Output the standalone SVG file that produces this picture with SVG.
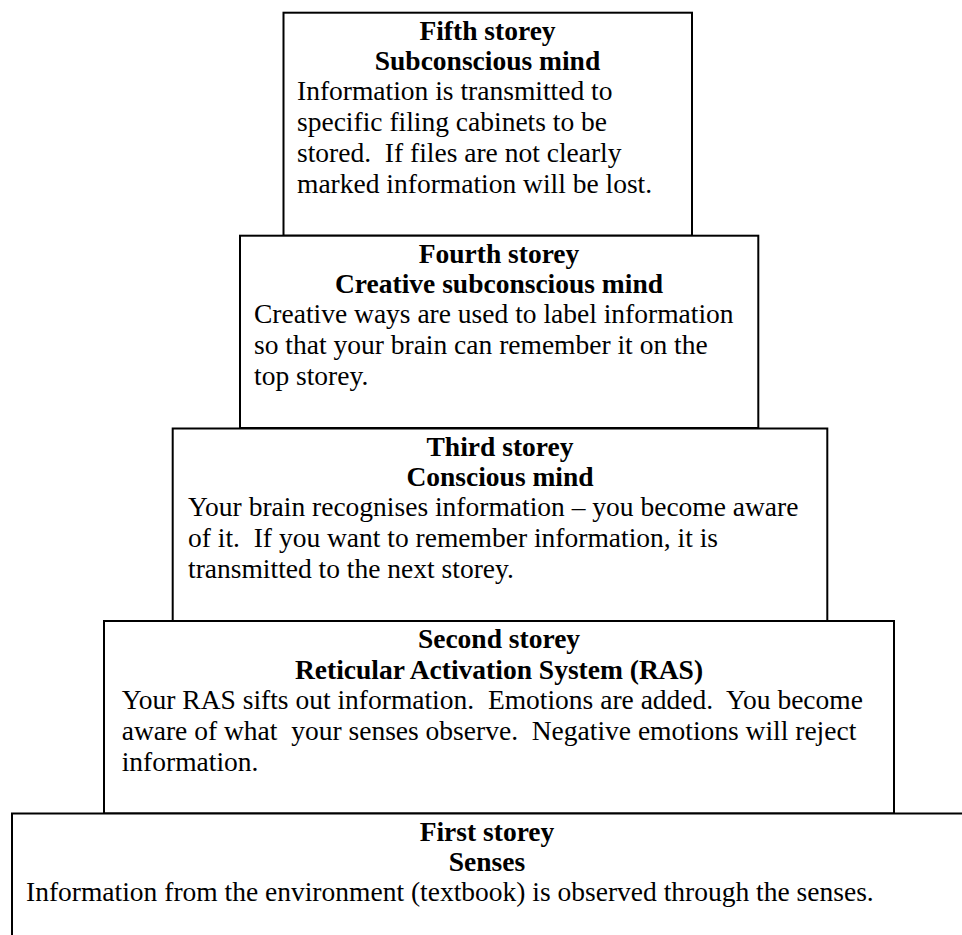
<svg xmlns="http://www.w3.org/2000/svg" width="962" height="935" viewBox="0 0 962 935">
<style>
.box{fill:#fff;stroke:#000;stroke-width:2}
.h{font-family:"Liberation Serif","Times New Roman",serif;font-size:27.5px;font-weight:bold;text-anchor:middle;fill:#000}
.b{font-family:"Liberation Serif","Times New Roman",serif;font-size:27.5px;fill:#000;white-space:pre}
</style>
<rect width="962" height="935" fill="#fff"/>
<g id="connectors"></g>
<g id="fifth">
<rect class="box" x="283.5" y="12.7" width="408.5" height="223"/>
<text class="h" x="487.5" y="39.7">Fifth storey</text>
<text class="h" x="487.5" y="70.2">Subconscious mind</text>
<text class="b" x="297" y="100.2" xml:space="preserve">Information is transmitted to</text>
<text class="b" x="297" y="131.2" xml:space="preserve">specific filing cabinets to be</text>
<text class="b" x="297" y="162.2" xml:space="preserve">stored.  If files are not clearly</text>
<text class="b" x="297" y="193.2" xml:space="preserve">marked information will be lost.</text>
</g>
<g id="fourth">
<rect class="box" x="240" y="235.7" width="518.3" height="192.3"/>
<text class="h" x="499" y="262.7">Fourth storey</text>
<text class="h" x="499" y="293.2">Creative subconscious mind</text>
<text class="b" x="254" y="323.2" xml:space="preserve">Creative ways are used to label information</text>
<text class="b" x="254" y="354.2" xml:space="preserve">so that your brain can remember it on the</text>
<text class="b" x="254" y="385.2" xml:space="preserve">top storey.</text>
</g>
<g id="third">
<rect class="box" x="172.7" y="428.5" width="654.6" height="192.5"/>
<text class="h" x="500" y="455.5">Third storey</text>
<text class="h" x="500" y="486">Conscious mind</text>
<text class="b" x="188" y="516" xml:space="preserve">Your brain recognises information – you become aware</text>
<text class="b" x="188" y="547" xml:space="preserve">of it.  If you want to remember information, it is</text>
<text class="b" x="188" y="578" xml:space="preserve">transmitted to the next storey.</text>
</g>
<g id="second">
<rect class="box" x="104" y="621" width="790" height="192.5"/>
<text class="h" x="499" y="648">Second storey</text>
<text class="h" x="499" y="678.5">Reticular Activation System (RAS)</text>
<text class="b" x="121.7" y="708.5" xml:space="preserve">Your RAS sifts out information.  Emotions are added.  You become</text>
<text class="b" x="121.7" y="739.5" xml:space="preserve">aware of what  your senses observe.  Negative emotions will reject</text>
<text class="b" x="121.7" y="770.5" xml:space="preserve">information.</text>
</g>
<g id="first">
<rect class="box" x="12" y="813.5" width="960" height="140"/>
<text class="h" x="487" y="840.5">First storey</text>
<text class="h" x="487" y="871">Senses</text>
<text class="b" x="26" y="901" xml:space="preserve">Information from the environment (textbook) is observed through the senses.</text>
</g>
</svg>
